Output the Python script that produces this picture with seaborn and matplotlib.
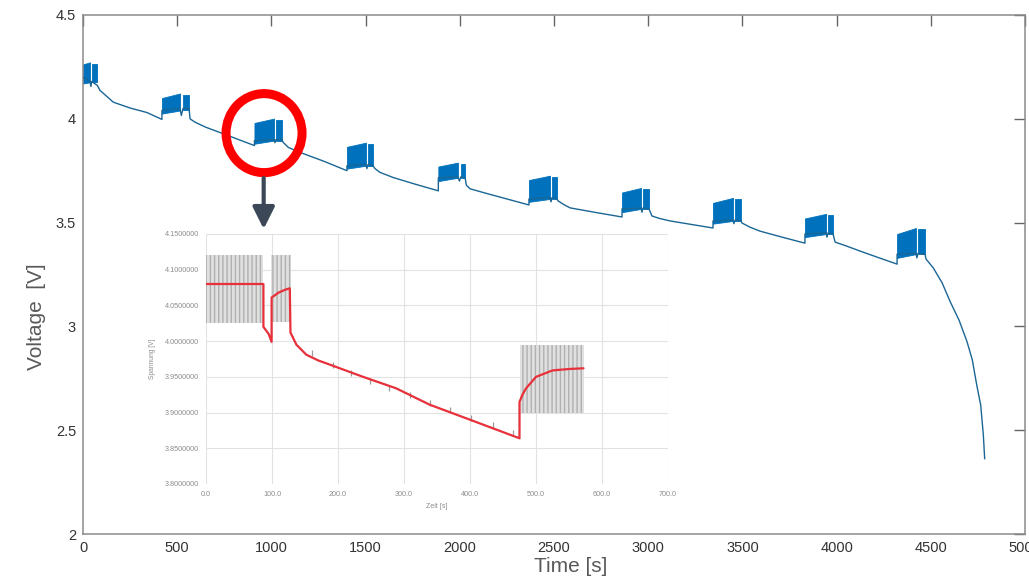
import numpy as np
import pandas as pd
import matplotlib
matplotlib.use("Agg")
import matplotlib.pyplot as plt
from matplotlib.patches import Ellipse
import seaborn as sns

# ---------------- data ----------------
# main discharge curve: time [s] / voltage [V]
main_t = [0, 37, 42, 46, 76, 90, 161, 250, 340, 419,
          419, 515, 522, 531, 563, 568, 594, 650, 727, 820, 910,
          910, 1014, 1019, 1024, 1056, 1062, 1090, 1152, 1280, 1401,
          1401, 1502, 1507, 1513, 1539, 1550, 1576, 1647, 1760, 1886,
          1886, 1990, 1998, 2005, 2028, 2035, 2054, 2140, 2229, 2367,
          2367, 2479, 2484, 2489, 2516, 2521, 2550, 2585, 2720, 2861,
          2861, 2962, 2967, 2972, 3004, 3020, 3060, 3116, 3230, 3344,
          3344, 3450, 3455, 3461, 3493, 3498, 3540, 3593, 3710, 3832,
          3832, 3944, 3949, 3954, 3981, 3992, 4050, 4124, 4220, 4321,
          4321, 4421, 4426, 4432, 4469, 4475, 4513, 4560, 4602, 4650,
          4692, 4720, 4744, 4765, 4779, 4786]
main_v = [4.20, 4.18, 4.156, 4.18, 4.161, 4.137, 4.080, 4.052, 4.030, 3.997,
          4.040, 4.050, 4.016, 4.050, 4.050, 4.000, 3.984, 3.960, 3.934, 3.902, 3.871,
          3.895, 3.900, 3.885, 3.900, 3.900, 3.887, 3.862, 3.838, 3.795, 3.750,
          3.774, 3.780, 3.760, 3.780, 3.774, 3.760, 3.742, 3.717, 3.686, 3.653,
          3.716, 3.720, 3.700, 3.720, 3.716, 3.680, 3.663, 3.641, 3.619, 3.585,
          3.614, 3.620, 3.600, 3.620, 3.614, 3.605, 3.588, 3.571, 3.549, 3.527,
          3.566, 3.570, 3.550, 3.570, 3.566, 3.532, 3.520, 3.508, 3.491, 3.474,
          3.508, 3.512, 3.495, 3.512, 3.508, 3.498, 3.478, 3.459, 3.430, 3.401,
          3.445, 3.450, 3.430, 3.450, 3.445, 3.406, 3.388, 3.363, 3.332, 3.300,
          3.348, 3.352, 3.330, 3.352, 3.348, 3.324, 3.282, 3.210, 3.121, 3.030,
          2.927, 2.840, 2.717, 2.620, 2.475, 2.362]

# pulse groups of the main curve (two pulse blocks each)
grp_a_start = [0, 419, 910, 1401, 1886, 2367, 2861, 3344, 3832, 4321]
grp_a_end   = [37, 515, 1014, 1502, 1990, 2479, 2962, 3450, 3944, 4421]
grp_b_start = [46, 531, 1024, 1513, 2005, 2489, 2972, 3461, 3954, 4432]
grp_b_end   = [76, 563, 1056, 1539, 2028, 2516, 3004, 3493, 3981, 4469]
grp_lo      = [4.176, 4.040, 3.895, 3.774, 3.716, 3.614, 3.566, 3.508, 3.445, 3.348]
grp_lo0     = [4.170, 4.025, 3.880, 3.760, 3.700, 3.600, 3.550, 3.495, 3.430, 3.330]
grp_hi0     = [4.262, 4.100, 3.980, 3.865, 3.770, 3.705, 3.645, 3.595, 3.520, 3.445]
grp_hi      = [4.272, 4.122, 4.001, 3.885, 3.789, 3.726, 3.667, 3.619, 3.542, 3.474]

# inset: model (red) and measured pulse envelopes (grey)
model_t = [0, 87, 87, 95, 99.4, 99.4, 110, 120, 127, 128, 137, 152, 170, 188,
           238, 288, 339, 400, 475, 475, 480, 485, 500, 525, 550, 572]
model_v = [4.080, 4.080, 4.020, 4.010, 3.999, 4.061, 4.068, 4.072, 4.074, 4.012,
           3.995, 3.981, 3.973, 3.967, 3.950, 3.934, 3.911, 3.890, 3.864, 3.915,
           3.926, 3.934, 3.950, 3.959, 3.961, 3.962]
meas_blk_t0 = [0, 99, 476]
meas_blk_t1 = [87, 129, 572]
meas_blk_lo = [4.025, 4.027, 3.900]
meas_blk_hi = [4.120, 4.120, 3.995]
meas_rest_t = [160, 193, 220, 248, 278, 309, 339, 369, 402, 435, 465]
meas_rest_v = [3.983, 3.967, 3.955, 3.944, 3.935, 3.924, 3.913, 3.904, 3.892, 3.883, 3.871]

main_xticks = list(range(0, 5001, 500))
main_yticks = [2, 2.5, 3, 3.5, 4, 4.5]
inset_xticks = [0, 100, 200, 300, 400, 500, 600, 700]
inset_yticks = [3.80, 3.85, 3.90, 3.95, 4.00, 4.05, 4.10, 4.15]

# ---------------- figure ----------------
sns.set_theme(style="white")
plt.rcParams['font.family'] = ['Liberation Sans', 'DejaVu Sans']

W, H = 1029, 579
fig = plt.figure(figsize=(W / 100, H / 100), dpi=100)
ax = fig.add_axes([83 / W, 1 - 534 / H, (1025 - 83) / W, (534 - 15) / H])

band = "#0072BD"
for a0, a1, b0, b1, lo0, lo, hi0, hi in zip(grp_a_start, grp_a_end, grp_b_start, grp_b_end,
                                            grp_lo0, grp_lo, grp_hi0, grp_hi):
    ax.fill_between([a0, a1], [lo0, lo], [hi0, hi], facecolor=band, edgecolor=band,
                    lw=0.6, zorder=2)
    ax.fill_between([b0, b1], [lo, lo], [hi - 0.006, hi - 0.006], facecolor=band,
                    edgecolor=band, lw=0.6, zorder=2)

df_main = pd.DataFrame({"t": main_t, "v": main_v})
sns.lineplot(data=df_main, x="t", y="v", sort=False, estimator=None, ax=ax,
             color="#1a6695", lw=1.0, zorder=3)

ax.set_xlim(0, 5000)
ax.set_ylim(2, 4.5)
ax.set_xticks(main_xticks)
ax.set_yticks(main_yticks)
ax.set_yticklabels([f"{v:g}" for v in main_yticks])
ax.tick_params(direction="in", top=True, right=True, length=8, width=1,
               color="#666666", labelcolor="#333333", labelsize=10.5, pad=5)
for s in ax.spines.values():
    s.set_color("#8a8a8a")
    s.set_linewidth(1.1)
ax.set_xlabel("Time [s]", fontsize=15, color="#595959")
ax.set_ylabel("Voltage  [V]", fontsize=15, color="#595959")
ax.xaxis.set_label_coords((571 - 83) / 942, (534 - 557) / 519)
ax.yaxis.set_label_coords((46 - 83) / 942, (534 - 317) / 519)

# red circle marking the zoomed group
ring = Ellipse((961, 3.931), width=76 / 0.1884, height=79 / 207.6, fill=False,
               edgecolor="#ff0000", lw=6.5, zorder=5)
ax.add_patch(ring)
# arrow to inset
ax.annotate("", xy=(959, 4.5 - (229 - 15) / 207.6), xytext=(959, 4.5 - (178 - 15) / 207.6),
            arrowprops=dict(arrowstyle="-|>,head_length=1.1,head_width=0.55", color="#3c4858",
                            lw=3, shrinkA=0, shrinkB=0), zorder=5)

# ---------------- inset ----------------
axi = fig.add_axes([206 / W, 1 - 484 / H, (668 - 206) / W, (484 - 234) / H])
axi.set_facecolor("white")
for t0, t1, lo, hi in zip(meas_blk_t0, meas_blk_t1, meas_blk_lo, meas_blk_hi):
    axi.fill_between([t0, t1], [lo, lo], [hi, hi], facecolor="#e0e0e0", edgecolor="#b0b0b0",
                     hatch="||||", lw=0, zorder=2)
axi.scatter(meas_rest_t, meas_rest_v, marker="|", s=14, color="#9a9a9a", lw=0.9, zorder=3)
df_model = pd.DataFrame({"t": model_t, "v": model_v})
sns.lineplot(data=df_model, x="t", y="v", sort=False, estimator=None, ax=axi,
             color="#e8303a", lw=1.6, zorder=4)
axi.set_xlim(0, 700)
axi.set_ylim(3.80, 4.15)
axi.set_xticks(inset_xticks)
axi.set_yticks(inset_yticks)
axi.set_xticklabels([f"{v:.1f}" for v in inset_xticks])
axi.set_yticklabels([f"{v:.7f}" for v in inset_yticks])
axi.grid(True, color="#e2e2e2", lw=0.8)
axi.set_axisbelow(True)
for s in axi.spines.values():
    s.set_visible(False)
axi.tick_params(length=0, labelsize=5.2, labelcolor="#8c8c8c", pad=5)
axi.set_xlabel("Zeit [s]", fontsize=5, color="#8c8c8c", labelpad=4)
axi.set_ylabel("Spannung [V]", fontsize=4.8, color="#8c8c8c", labelpad=6)

fig.savefig("out.png", dpi=100)
